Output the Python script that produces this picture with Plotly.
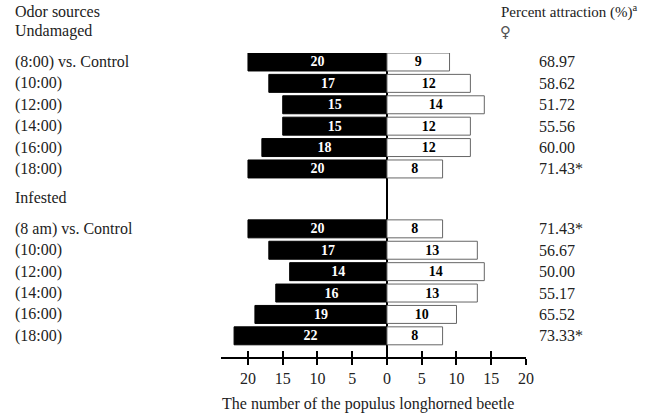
import plotly.graph_objects as go

# rows: odor source vs. control, two groups
row_labels_undamaged = ["(8:00) vs. Control", "(10:00)", "(12:00)", "(14:00)", "(16:00)", "(18:00)"]
row_labels_infested = ["(8 am) vs. Control", "(10:00)", "(12:00)", "(14:00)", "(16:00)", "(18:00)"]

odor_undamaged = [20, 17, 15, 15, 18, 20]
control_undamaged = [9, 12, 14, 12, 12, 8]
pct_undamaged = ["68.97", "58.62", "51.72", "55.56", "60.00", "71.43*"]

odor_infested = [20, 17, 14, 16, 19, 22]
control_infested = [8, 13, 14, 13, 10, 8]
pct_infested = ["71.43*", "56.67", "50.00", "55.17", "65.52", "73.33*"]

tick_vals = [-20, -15, -10, -5, 0, 5, 10, 15, 20]
tick_text = ["20", "15", "10", "5", "0", "5", "10", "15", "20"]

FONT = "Liberation Serif, Times New Roman, serif"
TXT = "#222222"

# y positions: second group starts after a gap
gap_start = 7.8
y_und = [i for i in range(len(odor_undamaged))]
y_inf = [gap_start + i for i in range(len(odor_infested))]
ys = y_und + y_inf
odor = odor_undamaged + odor_infested
control = control_undamaged + control_infested
pcts = pct_undamaged + pct_infested
labels = row_labels_undamaged + row_labels_infested

fig = go.Figure()

fig.add_trace(go.Bar(
    y=ys, x=[-v for v in odor], orientation="h", width=0.84,
    marker=dict(color="black", line=dict(color="black", width=1)),
    text=["<b>%d</b>" % v for v in odor], textposition="inside",
    insidetextanchor="middle", textangle=0,
    textfont=dict(family=FONT, size=14, color="white"),
    showlegend=False,
))
fig.add_trace(go.Bar(
    y=ys, x=control, orientation="h", width=0.84,
    marker=dict(color="white", line=dict(color="#666666", width=1)),
    text=["<b>%d</b>" % v for v in control], textposition="inside",
    insidetextanchor="middle", textangle=0,
    textfont=dict(family=FONT, size=14, color="black"),
    showlegend=False,
))
# dummy trace so the second x axis (inner half of the ticks) is drawn
fig.add_trace(go.Scatter(x=[0], y=[0], xaxis="x2", mode="markers",
                         marker=dict(opacity=0), showlegend=False, hoverinfo="skip"))

f16 = dict(family=FONT, size=16, color=TXT)
f15 = dict(family=FONT, size=15, color=TXT)
ann = []
for y, lab, p in zip(ys, labels, pcts):
    ann.append(dict(x=-0.681, xref="paper", y=y, yref="y", text=lab, showarrow=False,
                    xanchor="left", yanchor="middle", font=f16))
    ann.append(dict(x=1.036, xref="paper", y=y, yref="y", text=p, showarrow=False,
                    xanchor="left", yanchor="middle", font=f16))

headers = [
    ("Odor sources", -0.681, 1.138, f16),
    ("Undamaged", -0.681, 1.072, f16),
    ("Infested", -0.681, 0.526, f16),
    ("Percent attraction (%)<sup>a</sup>", 0.912, 1.138, f15),
    ("\u2640", 0.909, 1.07, dict(family="DejaVu Sans", size=15, color="#555555")),
]
for t, x, y, f in headers:
    ann.append(dict(x=x, xref="paper", y=y, yref="paper", text=t, showarrow=False,
                    xanchor="left", yanchor="middle", font=f))
ann.append(dict(x=0.482, xref="paper", y=-0.155, yref="paper",
                text="The number of the populus longhorned beetle",
                showarrow=False, xanchor="center", yanchor="middle", font=f16))

fig.update_layout(
    width=658, height=420,
    margin=dict(l=221, r=132, t=53, b=63),
    plot_bgcolor="white", paper_bgcolor="white",
    barmode="overlay",
    uniformtext=dict(minsize=14, mode="show"),
    annotations=ann,
    xaxis=dict(range=[-23.88, 20], tickvals=tick_vals, ticktext=tick_text,
               showgrid=False, zeroline=True, zerolinecolor="black", zerolinewidth=1.5,
               showline=True, linecolor="black", linewidth=1.5,
               ticks="outside", ticklen=6, tickwidth=1.5, tickcolor="black",
               tickfont=f16, fixedrange=True),
    xaxis2=dict(matches="x", overlaying="x", anchor="y", side="bottom",
                tickvals=tick_vals, showticklabels=False, showgrid=False, zeroline=False,
                showline=False, ticks="inside", ticklen=6, tickwidth=1.5, tickcolor="black"),
    yaxis=dict(range=[13.79, -0.42], showgrid=False, zeroline=False, showline=False,
               showticklabels=False, ticks=""),
)

fig.write_html("out.html", config={"displayModeBar": False},
               post_script="document.body.style.margin='0';")
